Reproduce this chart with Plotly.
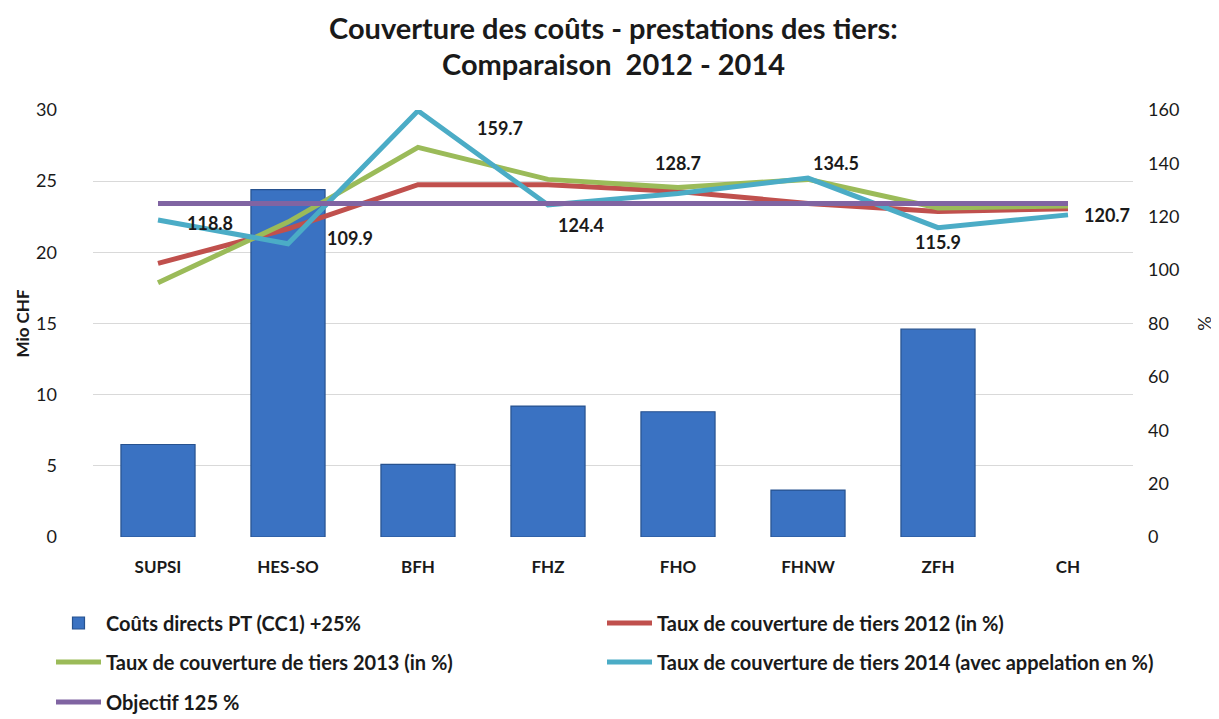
import plotly.graph_objects as go

categories = ["SUPSI", "HES-SO", "BFH", "FHZ", "FHO", "FHNW", "ZFH", "CH"]
couts_directs = [6.5, 24.4, 5.1, 9.2, 8.8, 3.3, 14.6, None]
taux_2012 = [102.5, 115.5, 132.0, 132.0, 129.5, 125.0, 122.0, 123.0]
taux_2013 = [95.3, 118.0, 146.0, 134.0, 131.0, 134.0, 123.3, 124.0]
taux_2014 = [118.8, 109.9, 159.7, 124.4, 128.7, 134.5, 115.9, 120.7]
objectif = [125] * len(categories)

left_ticks = [0, 5, 10, 15, 20, 25, 30]
right_ticks = [0, 20, 40, 60, 80, 100, 120, 140, 160]

FONT = "Lato, 'Open Sans', sans-serif"
TXT = "#1a1a1a"

fig = go.Figure()
fig.add_trace(go.Bar(
    x=categories, y=couts_directs, name="<b>Coûts directs PT (CC1) +25%</b>",
    marker=dict(color="#3a72c2", line=dict(color="#27528f", width=1.2)),
    width=0.57, legend="legend",
))
fig.add_trace(go.Scatter(x=categories, y=taux_2012, yaxis="y2", mode="lines",
                         name="<b>Taux de couverture de tiers 2012 (in %)</b>",
                         line=dict(color="#c0504d", width=5), legend="legend2"))
fig.add_trace(go.Scatter(x=categories, y=taux_2013, yaxis="y2", mode="lines",
                         name="<b>Taux de couverture de tiers 2013 (in %)</b>",
                         line=dict(color="#9bbb59", width=5), legend="legend3"))
fig.add_trace(go.Scatter(x=categories, y=taux_2014, yaxis="y2", mode="lines",
                         name="<b>Taux de couverture de tiers 2014 (avec appelation en %)</b>",
                         line=dict(color="#4bacc6", width=5), legend="legend4"))
fig.add_trace(go.Scatter(x=categories, y=objectif, yaxis="y2", mode="lines",
                         name="<b>Objectif 125 %</b>",
                         line=dict(color="#8064a2", width=5), legend="legend5"))

# data labels for 2014 series (offsets in pixels)
offsets = [(52, -3), (62, 6), (82, -17), (33, -20), (0, 31), (28, 15), (0, -14), (39, 0)]
annotations = []
for c, v, (dx, dy) in zip(categories, taux_2014, offsets):
    annotations.append(dict(x=c, y=v, xref="x", yref="y2", text=f"<b>{v:.1f}</b>",
                            showarrow=False, xshift=dx, yshift=dy,
                            font=dict(family=FONT, size=18, color=TXT)))

annotations.append(dict(x=0.5, y=1.0, xref="paper", yref="paper",
                        yanchor="middle", yshift=83,
                        text="<b>Couverture des coûts - prestations des tiers:</b>",
                        showarrow=False, font=dict(family=FONT, size=29, color=TXT)))
annotations.append(dict(x=0.5, y=1.0, xref="paper", yref="paper",
                        yanchor="middle", yshift=47,
                        text="<b>Comparaison  2012 - 2014</b>",
                        showarrow=False, font=dict(family=FONT, size=29, color=TXT)))

legend_common = dict(orientation="h", xanchor="left", yanchor="middle",
                     xref="container", yref="container",
                     font=dict(family=FONT, size=20, color=TXT),
                     bgcolor="rgba(0,0,0,0)", itemwidth=45)

col1, col2 = 43 / 1219, 594 / 1219
row1, row2, row3 = 1 - 615 / 719, 1 - 654 / 719, 1 - 694 / 719

fig.update_layout(
    width=1219, height=719,
    margin=dict(l=85, r=94, t=102, b=190, autoexpand=False),
    paper_bgcolor="white", plot_bgcolor="white",
    font=dict(family=FONT, size=16, color=TXT),
    xaxis=dict(tickfont=dict(family=FONT, size=17, color=TXT),
               tickprefix="<b>", ticksuffix="</b>",
               ticklabelstandoff=18,
               showline=False, showgrid=False, ticks=""),
    yaxis=dict(range=[0, 30], tickvals=left_ticks, showgrid=True,
               gridcolor="#d9d9d9", gridwidth=1, zeroline=False,
               tickprefix="<b>", ticksuffix="</b>",
               tickfont=dict(family=FONT, size=18, color=TXT),
               ticklabelstandoff=35,
               title=dict(text="<b>Mio CHF</b>", standoff=2,
                          font=dict(family=FONT, size=17, color=TXT))),
    yaxis2=dict(range=[0, 160], tickvals=right_ticks, overlaying="y", side="right",
                showgrid=False, zeroline=False,
                tickprefix="<b>", ticksuffix="</b>",
                tickfont=dict(family=FONT, size=18, color=TXT),
                ticklabelstandoff=14,
                title=dict(text="%", standoff=20,
                           font=dict(family=FONT, size=18, color=TXT))),
    legend=dict(x=col1, y=row1, **legend_common),
    legend2=dict(x=col2, y=row1, **legend_common),
    legend3=dict(x=col1, y=row2, **legend_common),
    legend4=dict(x=col2, y=row2, **legend_common),
    legend5=dict(x=col1, y=row3, **legend_common),
    annotations=annotations,
    showlegend=True,
)

fig.write_html("out.html")
